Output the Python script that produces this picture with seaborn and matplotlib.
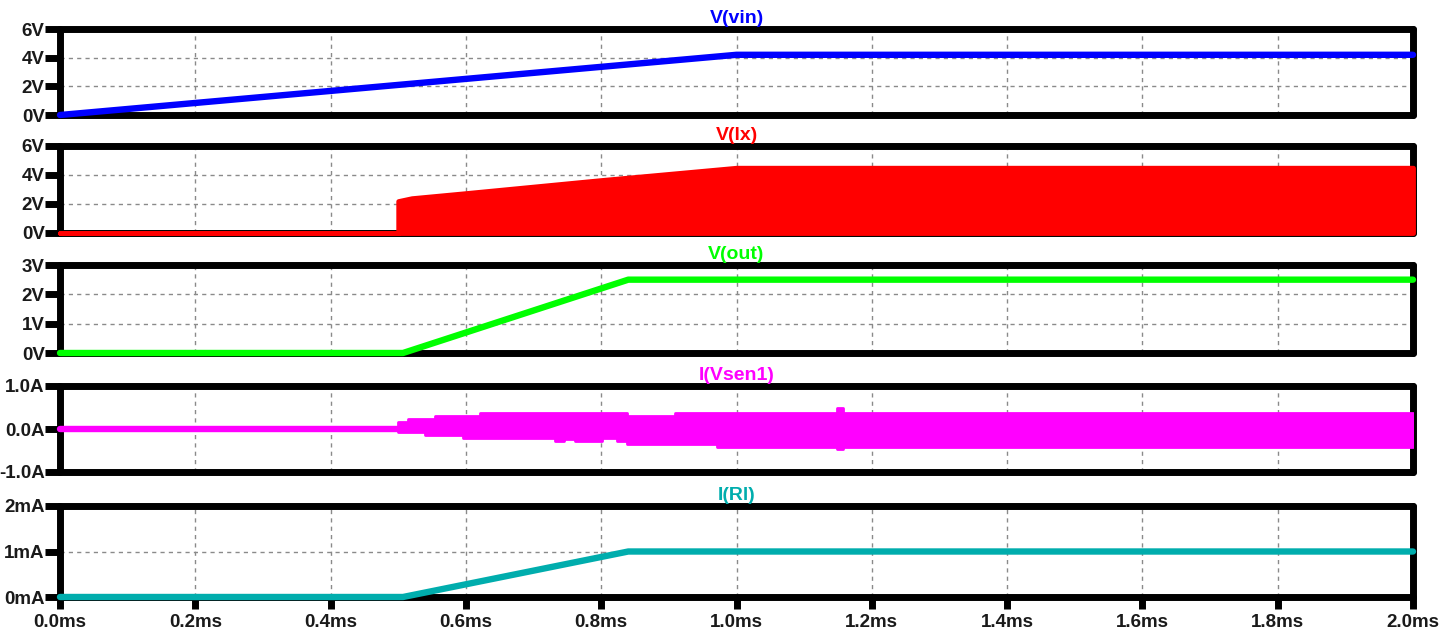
import numpy as np
import pandas as pd
import matplotlib
matplotlib.use("Agg")
import matplotlib.pyplot as plt
import seaborn as sns

# ---- waveform data (time in ms) ----
vin_t = [0.0, 1.0, 2.0]
vin_v = [0.0, 4.2, 4.2]

# switch node: idle until 0.5 ms, then switching between 0 and the peak
lx_t = [0.0, 0.5, 0.5, 0.52, 0.6, 0.8, 1.0, 2.0]
lx_peak = [0.0, 0.0, 2.2, 2.4, 2.75, 3.65, 4.5, 4.5]

out_t = [0.0, 0.507, 0.84, 2.0]
out_v = [0.0, 0.0, 2.5, 2.5]

# sense current: flat before 0.5 ms, then ripple envelope (max / min)
sen_idle_t = [0.0, 0.5]
sen_idle_i = [0.0, 0.0]
sen_t = [0.500, 0.515, 0.540, 0.554, 0.596, 0.621, 0.732, 0.745, 0.761,
         0.801, 0.823, 0.838, 0.909, 0.971, 1.148, 1.158, 2.000]
sen_hi = [0.17, 0.23, 0.23, 0.31, 0.31, 0.38, 0.38, 0.38, 0.38,
          0.38, 0.38, 0.31, 0.38, 0.38, 0.50, 0.38, 0.38]
sen_lo = [-0.06, -0.06, -0.13, -0.13, -0.21, -0.21, -0.28, -0.23, -0.27,
          -0.21, -0.27, -0.35, -0.35, -0.41, -0.47, -0.41, -0.41]

rl_t = [0.0, 0.507, 0.84, 2.0]
rl_ma = [0.0, 0.0, 1.0, 1.0]

x_ticks = [0.0, 0.2, 0.4, 0.6, 0.8, 1.0, 1.2, 1.4, 1.6, 1.8, 2.0]
x_labels = ["0.0ms", "0.2ms", "0.4ms", "0.6ms", "0.8ms", "1.0ms",
            "1.2ms", "1.4ms", "1.6ms", "1.8ms", "2.0ms"]

titles = ["V(vin)", "V(lx)", "V(out)", "I(Vsen1)", "I(Rl)"]
colors = ["#0000FF", "#FF0000", "#00FF00", "#FF00FF", "#00ADAD"]
y_ticks = [[0, 2, 4, 6], [0, 2, 4, 6], [0, 1, 2, 3], [-1.0, 0.0, 1.0], [0, 1, 2]]
y_labels = [["0V", "2V", "4V", "6V"], ["0V", "2V", "4V", "6V"],
            ["0V", "1V", "2V", "3V"], ["-1.0A", "0.0A", "1.0A"],
            ["0mA", "1mA", "2mA"]]

sns.set_theme(style="white")
plt.rcParams["font.family"] = ["Liberation Sans", "DejaVu Sans"]
plt.rcParams["font.weight"] = "bold"

W, H = 1440, 635
fig = plt.figure(figsize=(W / 100, H / 100), dpi=100)

# panel extents in pixels (top, bottom)
rows = [(29, 115), (146, 233), (265, 353), (386, 472), (506, 597)]
x0, x1 = 60, 1413
axes = []
for top, bot in rows:
    ax = fig.add_axes([x0 / W, 1 - bot / H, (x1 - x0) / W, (bot - top) / H])
    axes.append(ax)

LW = 4.6

def line(ax, t, v, color):
    sns.lineplot(x=t, y=v, ax=ax, color=color, lw=LW, sort=False,
                 estimator=None, solid_capstyle="round", zorder=4, clip_on=False)

line(axes[0], vin_t, vin_v, colors[0])

axes[1].fill_between(lx_t, 0, lx_peak, color=colors[1], lw=3.5,
                     edgecolor=colors[1], zorder=4, clip_on=False,
                     joinstyle="round", capstyle="round")

line(axes[2], out_t, out_v, colors[2])

line(axes[3], sen_idle_t, sen_idle_i, colors[3])
axes[3].fill_between(sen_t, sen_lo, sen_hi, step="post", color=colors[3],
                     lw=2.0, edgecolor=colors[3], zorder=4,
                     joinstyle="round", capstyle="round")

line(axes[4], rl_t, rl_ma, colors[4])

for i, ax in enumerate(axes):
    ax.set_xlim(0, 2.0)
    ax.set_ylim(y_ticks[i][0], y_ticks[i][-1])
    ax.set_yticks(y_ticks[i])
    ax.set_yticklabels(y_labels[i])
    ax.set_xticks(x_ticks)
    ax.set_facecolor("white")
    for sp in ax.spines.values():
        sp.set_visible(True)
        sp.set_color("black")
        sp.set_linewidth(5)
        sp.set_zorder(3)
        sp.set_capstyle("round")
    ax.grid(True, color="#8a8a8a", linestyle=(0, (3, 3)), lw=1.0, zorder=1)
    ax.tick_params(axis="y", which="major", left=True, direction="out",
                   length=11, width=5, pad=0, labelsize=13.5,
                   labelcolor="#1a1a1a", color="black")
    for lab in ax.get_yticklabels():
        lab.set_fontweight("bold")
    if i < len(axes) - 1:
        ax.tick_params(axis="x", bottom=False, labelbottom=False)
    else:
        ax.tick_params(axis="x", bottom=True, direction="out", length=8.5,
                       width=5, pad=4, labelsize=13.5, labelcolor="#1a1a1a",
                       color="black")
        ax.set_xticklabels(x_labels)
        for lab in ax.get_xticklabels():
            lab.set_fontweight("bold")
    ax.set_xlabel("")
    ax.set_ylabel("")
    ax.set_title(titles[i], color=colors[i], fontsize=14, fontweight="bold", pad=4)

fig.savefig("out.png", dpi=100, facecolor="white")
